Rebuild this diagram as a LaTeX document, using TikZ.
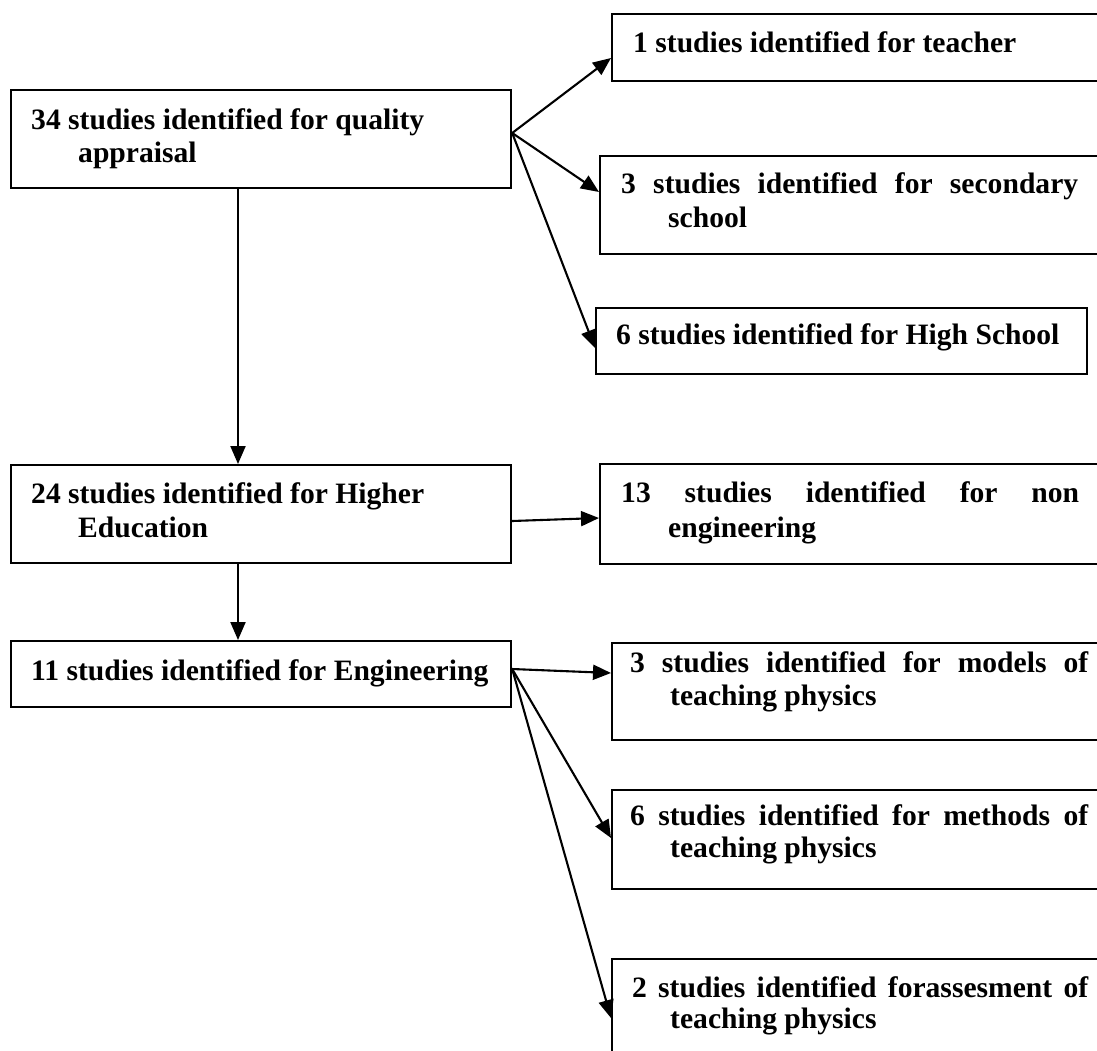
\documentclass[tikz,border=0pt]{standalone}
\usepackage{fontspec}
\setmainfont{Liberation Serif}
\usetikzlibrary{arrows.meta,calc}

\begin{document}
\begin{tikzpicture}[x=1pt,y=-1pt,
  box/.style={draw,line width=2.2pt,rectangle,inner sep=0pt,anchor=north west},
  txt/.style={anchor=base west,inner sep=0pt,font=\fontsize{29.6}{34}\selectfont\bfseries},
  arr/.style={line width=2.1pt,-{Triangle[length=18pt,width=15pt]}}
]
\useasboundingbox (0,0) rectangle (1097,1050);
\clip (0,0) rectangle (1097,1050);

% boxes (the right-hand column runs off the page edge)
\node[box,minimum width=500pt,minimum height=98pt] (A)  at (10,89)  {};
\node[box,minimum width=499pt,minimum height=67pt] (T1) at (611,13) {};
\node[box,minimum width=511pt,minimum height=98pt] (T2) at (599,155) {};
\node[box,minimum width=491pt,minimum height=66pt] (T3) at (595,307) {};
\node[box,minimum width=500pt,minimum height=98pt] (B)  at (10,464) {};
\node[box,minimum width=511pt,minimum height=100pt] (N) at (599,463) {};
\node[box,minimum width=500pt,minimum height=66pt] (E)  at (10,640) {};
\node[box,minimum width=499pt,minimum height=97pt] (M1) at (611,642) {};
\node[box,minimum width=499pt,minimum height=99pt] (M2) at (611,789) {};
\node[box,minimum width=499pt,minimum height=112pt] (M3) at (611,958) {};

% texts
\node[txt] (tA1) at (31,129) {34 studies identified for quality};
\node[txt] (tA2) at (78,162) {appraisal};
\node[txt] (tT1) at (633,52) {1 studies identified for teacher};
\node[txt] (tT2a) at (621,193) {\hbox to 457pt{3\hfill studies\hfill identified\hfill for\hfill secondary}};
\node[txt] (tT2b) at (668,227) {school};
\node[txt] (tT3) at (616,344) {6 studies identified for High School};
\node[txt] (tB1) at (31,503) {24 studies identified for Higher};
\node[txt] (tB2) at (78,537) {Education};
\node[txt] (tN1) at (621,502) {\hbox to 458pt{13\hfill studies\hfill identified\hfill for\hfill non}};
\node[txt] (tN2) at (668,537) {engineering};
\node[txt] (tE) at (31,680) {11 studies identified for Engineering};
\node[txt] (tM1a) at (630,672) {\hbox to 458pt{3\hfill studies\hfill identified\hfill for\hfill models\hfill of}};
\node[txt] (tM1b) at (670,705) {teaching physics};
\node[txt] (tM2a) at (630,825) {\hbox to 458pt{6\hfill studies\hfill identified\hfill for\hfill methods\hfill of}};
\node[txt] (tM2b) at (670,857) {teaching physics};
\node[txt] (tM3a) at (632,997) {\hbox to 456pt{2\hfill studies\hfill identified\hfill forassesment\hfill of}};
\node[txt] (tM3b) at (670,1028) {teaching physics};

% connectors
\coordinate (oA) at ($(A.north east)+(0,44)$);
\draw[arr] (oA) -- ($(T1.north west)+(0,45)$);
\draw[arr] (oA) -- ($(T2.north west)+(0,37)$);
\draw[arr] (oA) -- ($(T3.north west)+(0,41)$);
\draw[arr] ($(A.south west)+(228,0)$) -- ($(B.north west)+(228,0)$);
\draw[arr] ($(B.north east)+(0,57)$) -- ($(N.north west)+(0,55)$);
\draw[arr] ($(B.south west)+(228,0)$) -- ($(E.north west)+(228,0)$);
\coordinate (oE) at ($(E.north east)+(0,29)$);
\draw[arr] (oE) -- ($(M1.north west)+(0,31)$);
\draw[arr] (oE) -- ($(M2.north west)+(0,49)$);
\draw[arr] (oE) -- ($(M3.north west)+(0,60)$);
\end{tikzpicture}
\end{document}
